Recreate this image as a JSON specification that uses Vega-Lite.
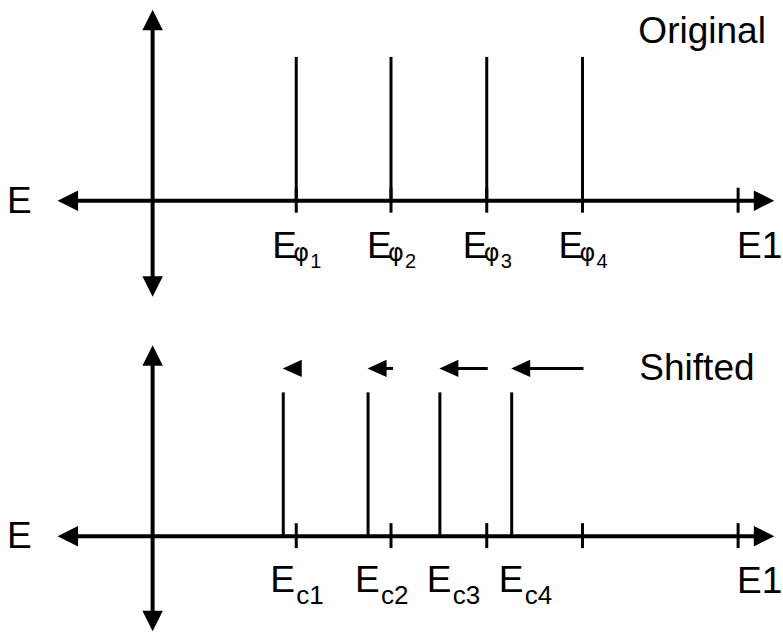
{
  "$schema": "https://vega.github.io/schema/vega-lite/v6.json",
  "width": 783,
  "height": 632,
  "padding": 0,
  "autosize": {"type": "fit", "contains": "padding"},
  "background": "white",
  "config": {"view": {"stroke": null}},
  "datasets": {
    "segments": [
      {"kind": "axis", "x": 68, "x2": 766, "y": 201, "y2": 201},
      {"kind": "axis", "x": 153, "x2": 153, "y": 20, "y2": 287},
      {"kind": "axis", "x": 68, "x2": 766, "y": 537, "y2": 537},
      {"kind": "axis", "x": 153, "x2": 153, "y": 356, "y2": 622},
      {"kind": "tick", "x": 297, "x2": 297, "y": 188, "y2": 213},
      {"kind": "tick", "x": 392, "x2": 392, "y": 188, "y2": 213},
      {"kind": "tick", "x": 488, "x2": 488, "y": 188, "y2": 213},
      {"kind": "tick", "x": 584, "x2": 584, "y": 188, "y2": 213},
      {"kind": "tick", "x": 740, "x2": 740, "y": 188, "y2": 213},
      {"kind": "tick", "x": 297, "x2": 297, "y": 524, "y2": 549},
      {"kind": "tick", "x": 392, "x2": 392, "y": 524, "y2": 549},
      {"kind": "tick", "x": 488, "x2": 488, "y": 524, "y2": 549},
      {"kind": "tick", "x": 584, "x2": 584, "y": 524, "y2": 549},
      {"kind": "tick", "x": 740, "x2": 740, "y": 524, "y2": 549},
      {"kind": "spike", "x": 297, "x2": 297, "y": 57, "y2": 201},
      {"kind": "spike", "x": 392, "x2": 392, "y": 57, "y2": 201},
      {"kind": "spike", "x": 488, "x2": 488, "y": 57, "y2": 201},
      {"kind": "spike", "x": 584, "x2": 584, "y": 57, "y2": 201},
      {"kind": "spike", "x": 284, "x2": 284, "y": 393, "y2": 537},
      {"kind": "spike", "x": 369, "x2": 369, "y": 393, "y2": 537},
      {"kind": "spike", "x": 441, "x2": 441, "y": 393, "y2": 537},
      {"kind": "spike", "x": 513, "x2": 513, "y": 393, "y2": 537},
      {"kind": "shaft", "x": 378, "x2": 394, "y": 369, "y2": 369},
      {"kind": "shaft", "x": 450, "x2": 489, "y": 369, "y2": 369},
      {"kind": "shaft", "x": 522, "x2": 585, "y": 369, "y2": 369}
    ],
    "heads": [
      {"kind": "axis", "dir": "left", "x": 68, "y": 201},
      {"kind": "axis", "dir": "right", "x": 766, "y": 201},
      {"kind": "axis", "dir": "up", "x": 153, "y": 20},
      {"kind": "axis", "dir": "down", "x": 153, "y": 287},
      {"kind": "axis", "dir": "left", "x": 68, "y": 537},
      {"kind": "axis", "dir": "right", "x": 766, "y": 537},
      {"kind": "axis", "dir": "up", "x": 153, "y": 356},
      {"kind": "axis", "dir": "down", "x": 153, "y": 622},
      {"kind": "shift", "dir": "left", "x": 293, "y": 369},
      {"kind": "shift", "dir": "left", "x": 378, "y": 369},
      {"kind": "shift", "dir": "left", "x": 450, "y": 369},
      {"kind": "shift", "dir": "left", "x": 522, "y": 369}
    ],
    "plain": [
      {"text": "E", "x": 7, "y": 213},
      {"text": "E", "x": 7, "y": 549},
      {"text": "E1", "x": 739, "y": 258},
      {"text": "E1", "x": 739, "y": 594},
      {"text": "Original", "x": 640, "y": 43},
      {"text": "Shifted", "x": 641, "y": 381}
    ],
    "orig": [
      {"main": "E", "sub": "φ", "sub2": "1", "x": 297, "y": 258},
      {"main": "E", "sub": "φ", "sub2": "2", "x": 392, "y": 258},
      {"main": "E", "sub": "φ", "sub2": "3", "x": 488, "y": 258},
      {"main": "E", "sub": "φ", "sub2": "4", "x": 584, "y": 258}
    ],
    "shifted": [
      {"main": "E", "sub": "c1", "x": 284, "y": 593},
      {"main": "E", "sub": "c2", "x": 369, "y": 593},
      {"main": "E", "sub": "c3", "x": 441, "y": 593},
      {"main": "E", "sub": "c4", "x": 513, "y": 593}
    ]
  },
  "encoding": {
    "x": {"field": "x", "type": "quantitative", "scale": {"domain": [0, 783], "nice": false, "zero": false}, "axis": null},
    "y": {"field": "y", "type": "quantitative", "scale": {"domain": [0, 632], "nice": false, "zero": false, "reverse": true}, "axis": null}
  },
  "layer": [
    {
      "data": {"name": "segments"},
      "transform": [{"filter": "datum.kind == 'axis'"}],
      "mark": {"type": "rule", "color": "black", "strokeWidth": 4},
      "encoding": {"x2": {"field": "x2"}, "y2": {"field": "y2"}}
    },
    {
      "data": {"name": "segments"},
      "transform": [{"filter": "datum.kind != 'axis'"}],
      "mark": {"type": "rule", "color": "black", "strokeWidth": 3},
      "encoding": {"x2": {"field": "x2"}, "y2": {"field": "y2"}}
    },
    {
      "data": {"name": "heads"},
      "transform": [{"filter": "datum.kind == 'axis' && datum.dir == 'left'"}],
      "mark": {"type": "point", "shape": "M-1,0L1,-1L1,1Z", "size": 420, "filled": true, "color": "black", "opacity": 1, "strokeWidth": 0}
    },
    {
      "data": {"name": "heads"},
      "transform": [{"filter": "datum.kind == 'axis' && datum.dir == 'right'"}],
      "mark": {"type": "point", "shape": "M1,0L-1,-1L-1,1Z", "size": 420, "filled": true, "color": "black", "opacity": 1, "strokeWidth": 0}
    },
    {
      "data": {"name": "heads"},
      "transform": [{"filter": "datum.kind == 'axis' && datum.dir == 'up'"}],
      "mark": {"type": "point", "shape": "M0,-1L-1,1L1,1Z", "size": 420, "filled": true, "color": "black", "opacity": 1, "strokeWidth": 0}
    },
    {
      "data": {"name": "heads"},
      "transform": [{"filter": "datum.kind == 'axis' && datum.dir == 'down'"}],
      "mark": {"type": "point", "shape": "M0,1L-1,-1L1,-1Z", "size": 420, "filled": true, "color": "black", "opacity": 1, "strokeWidth": 0}
    },
    {
      "data": {"name": "heads"},
      "transform": [{"filter": "datum.kind == 'shift'"}],
      "mark": {"type": "point", "shape": "M-1,0L1,-0.9L1,0.9Z", "size": 361, "filled": true, "color": "black", "opacity": 1, "strokeWidth": 0}
    },
    {
      "data": {"name": "plain"},
      "mark": {"type": "text", "font": "Liberation Sans", "fontSize": 37, "align": "left", "baseline": "alphabetic", "color": "black"},
      "encoding": {"text": {"field": "text"}}
    },
    {
      "data": {"name": "orig"},
      "mark": {"type": "text", "font": "Liberation Sans", "fontSize": 37, "align": "left", "baseline": "alphabetic", "color": "black", "dx": -24},
      "encoding": {"text": {"field": "main"}}
    },
    {
      "data": {"name": "orig"},
      "mark": {"type": "text", "font": "DejaVu Sans", "fontSize": 24, "align": "left", "baseline": "alphabetic", "color": "black", "dx": -3, "dy": 3},
      "encoding": {"text": {"field": "sub"}}
    },
    {
      "data": {"name": "orig"},
      "mark": {"type": "text", "font": "Liberation Sans", "fontSize": 20, "align": "left", "baseline": "alphabetic", "color": "black", "dx": 14, "dy": 10},
      "encoding": {"text": {"field": "sub2"}}
    },
    {
      "data": {"name": "shifted"},
      "mark": {"type": "text", "font": "Liberation Sans", "fontSize": 37, "align": "left", "baseline": "alphabetic", "color": "black", "dx": -13},
      "encoding": {"text": {"field": "main"}}
    },
    {
      "data": {"name": "shifted"},
      "mark": {"type": "text", "font": "Liberation Sans", "fontSize": 26, "align": "left", "baseline": "alphabetic", "color": "black", "dx": 13, "dy": 12},
      "encoding": {"text": {"field": "sub"}}
    }
  ]
}
